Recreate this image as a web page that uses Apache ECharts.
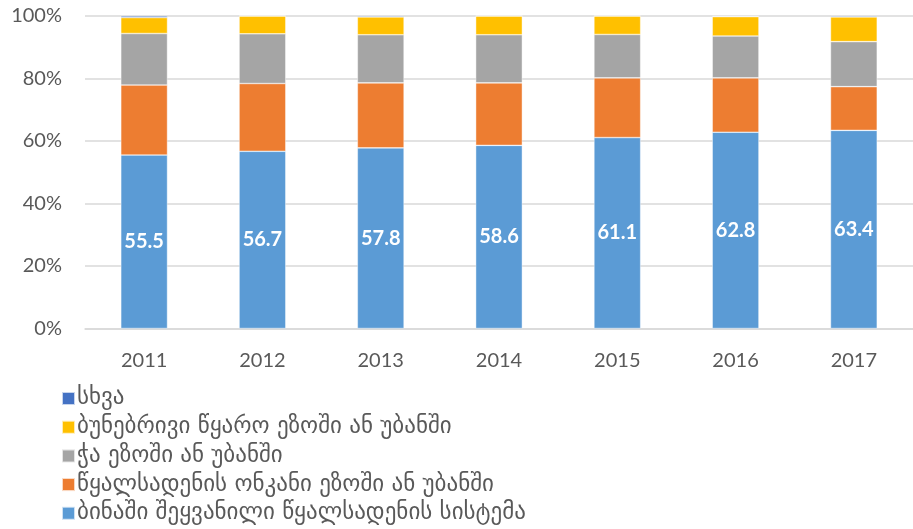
<!DOCTYPE html>
<html>
<head>
<meta charset="utf-8">
<script src="https://cdn.jsdelivr.net/npm/echarts@6/dist/echarts.min.js"></script>
<style>html,body{margin:0;padding:0;background:#fff}#c{width:913px;height:529px}</style>
</head>
<body>
<div id="c"></div>
<script>
var categories = ['2011','2012','2013','2014','2015','2016','2017'];
var yTickLabels = ['0%','20%','40%','60%','80%','100%'];
var seriesNames = [
  'ბინაში შეყვანილი წყალსადენის სისტემა',
  'წყალსადენის ონკანი ეზოში ან უბანში',
  'ჭა ეზოში ან უბანში',
  'ბუნებრივი წყარო ეზოში ან უბანში',
  'სხვა'
];
var pipedInHome = [55.5, 56.7, 57.8, 58.6, 61.1, 62.8, 63.4];
var tapInYard   = [22.4, 21.7, 20.8, 20.0, 19.1, 17.4, 14.0];
var wellInYard  = [16.5, 15.9, 15.4, 15.4, 13.9, 13.4, 14.4];
var springInYard= [5.1, 5.7, 5.7, 6.0, 5.9, 6.2, 7.9];
var other       = [0.5, 0.0, 0.3, 0.0, 0.0, 0.2, 0.3];

var colors = ['#5B9BD5','#ED7D31','#A5A5A5','#FFC000','#4472C4'];
var dataSets = [pipedInHome, tapInYard, wellInYard, springInYard, other];

var series = dataSets.map(function(d, i){
  var s = {
    name: seriesNames[i],
    type: 'bar',
    stack: 'total',
    barWidth: '39.5%',
    data: d,
    itemStyle: {color: colors[i], borderColor: 'rgba(255,255,255,0.7)', borderWidth: 0.6},
    emphasis: {disabled: true}
  };
  if (i === 0) {
    s.label = {show: true, position: 'inside', color: '#fff', fontFamily: 'Lato', fontWeight: 'bold', fontSize: 20,
      formatter: function(p){ return p.value.toFixed(1); }};
  }
  return s;
});

var chart = echarts.init(document.getElementById('c'), null, {renderer: 'canvas'});
chart.setOption({
  animation: false,
  color: colors,
  grid: {left: 85, top: 16, width: 835, height: 312.5, containLabel: false},
  legend: {
    orient: 'vertical',
    left: 61,
    top: 387,
    height: 200,
    padding: 0,
    data: seriesNames.slice().reverse(),
    itemWidth: 13,
    itemHeight: 13,
    itemGap: 5.7,
    icon: 'rect',
    textStyle: {fontFamily: 'DejaVu Sans', fontSize: 23, color: '#595959', padding: [0,0,0,-3]}
  },
  xAxis: {
    type: 'category',
    data: categories,
    axisLine: {show: true, lineStyle: {color: '#D9D9D9', width: 1.5}},
    axisTick: {show: false},
    axisLabel: {fontFamily: 'Lato', fontSize: 20, color: '#595959', margin: 22}
  },
  yAxis: {
    type: 'value',
    min: 0, max: 100, interval: 20,
    axisLine: {show: false},
    axisTick: {show: false},
    splitLine: {lineStyle: {color: '#D9D9D9', width: 1.5}},
    axisLabel: {fontFamily: 'Lato', fontSize: 20, color: '#595959', margin: 23,
      formatter: function(v){ return yTickLabels[Math.round(v/20)]; }}
  },
  series: series
});
</script>
</body>
</html>
